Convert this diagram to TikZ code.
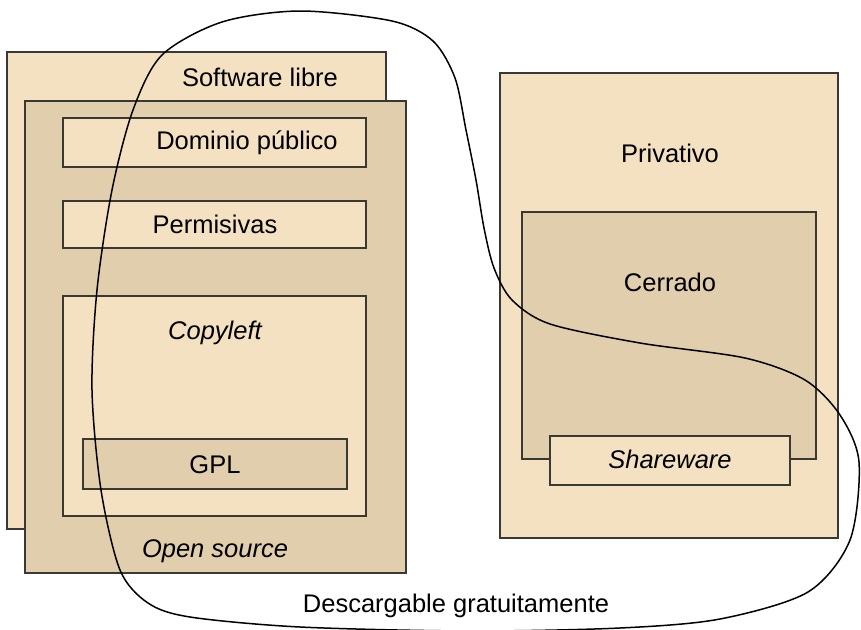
\documentclass[tikz,border=0pt]{standalone}
\usepackage{fontspec}
\setmainfont{Liberation Sans}
\usepackage{tikz}
\definecolor{LicenseLight}{HTML}{F4E1C2}
\definecolor{LicenseDark}{HTML}{E0CEAC}
\definecolor{BoxEdge}{HTML}{3A3833}
\tikzset{
  lightbox/.style={fill=LicenseLight,draw=BoxEdge,line width=1.6pt},
  darkbox/.style={fill=LicenseDark,draw=BoxEdge,line width=1.6pt},
  boxlabel/.style={anchor=base,inner sep=0pt,font=\fontsize{25.5}{30}\selectfont},
  freeline/.style={draw=black,line width=1.5pt}
}

\begin{document}
\begin{tikzpicture}[x=1pt,y=-1pt]
  \useasboundingbox (0,0) rectangle (861,629);

  % Free software side
  \draw[lightbox] (7,52) rectangle (386,529);
  \draw[darkbox] (25,101) rectangle (406,573);
  \draw[lightbox] (63,118) rectangle (366,167);
  \draw[lightbox] (63,201) rectangle (366,248);
  \draw[lightbox] (63,296) rectangle (366,516);
  \draw[darkbox] (83,439) rectangle (347,489);

  % Proprietary side
  \draw[lightbox] (500,73) rectangle (838,538);
  \draw[darkbox] (522,212) rectangle (816,459);
  \draw[lightbox] (550,436) rectangle (790,485);

  % Free of charge region
  \draw[freeline] plot[smooth cycle,tension=0.5] coordinates {
    (300,11) (392,21) (433,41) (455,78) (466,130) (476,180) (484,228)
    (494,268) (512,300) (550,324) (640,343) (745,358) (805,380)
    (840,415) (859,462) (850,540) (808,592) (720,619) (620,628)
    (470,631) (300,627) (190,617) (148,603) (120,570) (101,490)
    (92,390) (97,290) (112,190) (133,110) (162,55) (222,22)};

  % Labels
  \node[boxlabel] (libre) at (260,86) {Software libre};
  \node[boxlabel] (dominio) at (247,149) {Dominio público};
  \node[boxlabel] (permisivas) at (215,233) {Permisivas};
  \node[boxlabel] (copyleft) at (215,339) {\itshape Copyleft};
  \node[boxlabel] (gpl) at (215,473) {GPL};
  \node[boxlabel] (opensource) at (215,557) {\itshape Open source};
  \node[boxlabel] (privativo) at (670,162) {Privativo};
  \node[boxlabel] (cerrado) at (670,291) {Cerrado};
  \node[boxlabel] (shareware) at (670,468) {\itshape Shareware};
  \node[boxlabel] (gratis) at (456,612) {Descargable gratuitamente};
\end{tikzpicture}
\end{document}
